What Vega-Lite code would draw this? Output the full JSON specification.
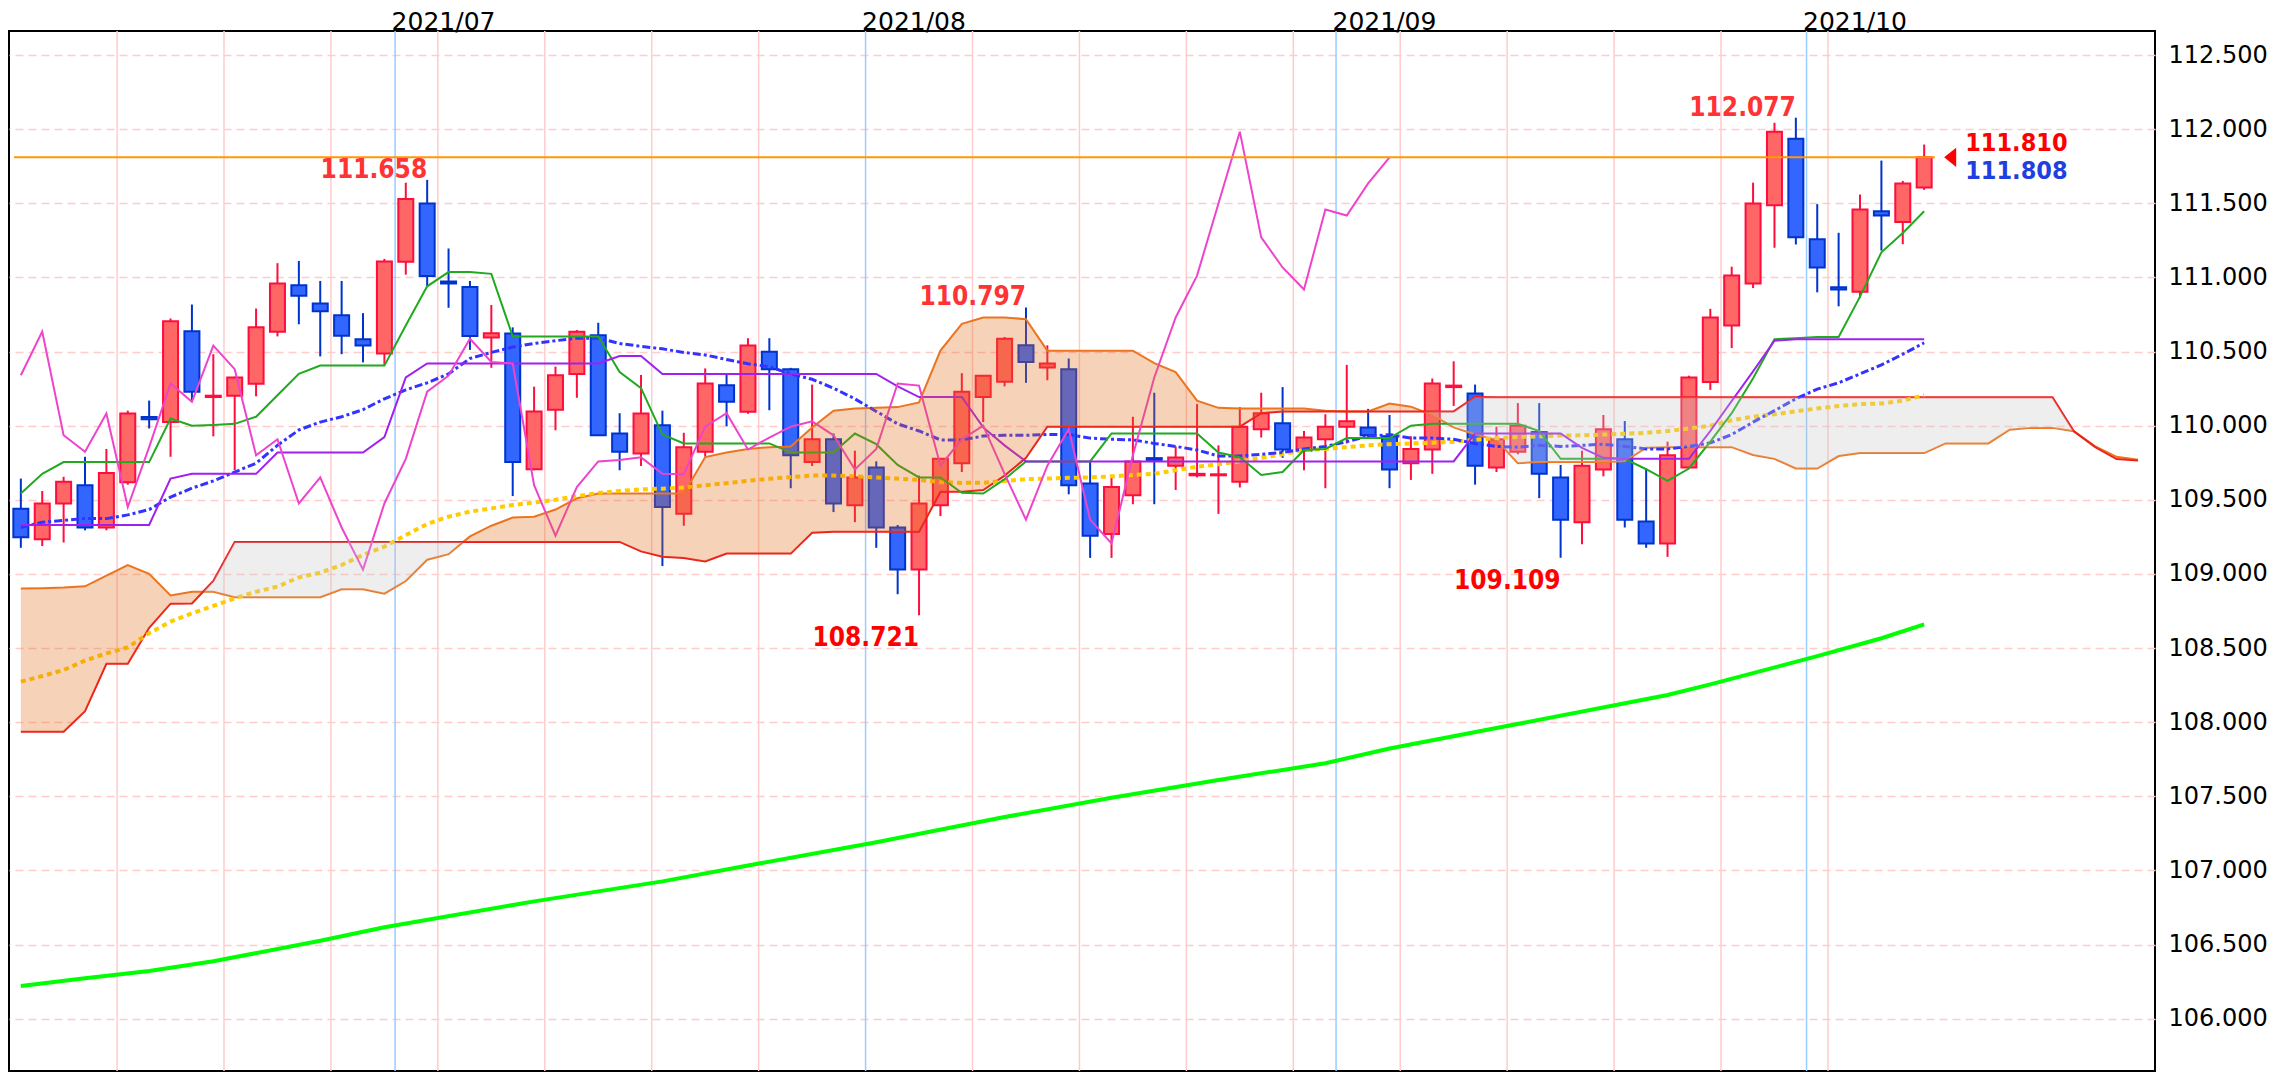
{
"$schema":"https://vega.github.io/schema/vega-lite/v6.json",
"width":2146,"height":1040,
"autosize":{"type":"none"},
"padding":{"left":9,"top":31,"right":133,"bottom":9},
"background":"white",
"config":{"view":{"stroke":"#000","strokeWidth":2},"axis":{"labelFont":"DejaVu Sans","labelColor":"#000","title":null}},
"datasets":{
"weeks":[{"b":4.5},{"b":9.5},{"b":14.5},{"b":19.5},{"b":24.5},{"b":29.5},{"b":34.5},{"b":44.5},{"b":49.5},{"b":54.5},{"b":59.5},{"b":64.5},{"b":69.5},{"b":74.5},{"b":79.5},{"b":84.5}],
"months":[{"b":17.5,"m":"2021/07"},{"b":39.5,"m":"2021/08"},{"b":61.5,"m":"2021/09"},{"b":83.5,"m":"2021/10"}],
"candles":[
{"i":0,"o":109.439,"h":109.643,"l":109.176,"c":109.248,"tk":109.542,"kj":109.330,"m1":109.313,"m2":108.273},
{"i":1,"o":109.234,"h":109.559,"l":109.188,"c":109.475,"tk":109.675,"kj":109.330,"m1":109.349,"m2":108.311},
{"i":2,"o":109.475,"h":109.655,"l":109.212,"c":109.622,"tk":109.754,"kj":109.330,"m1":109.361,"m2":108.352},
{"i":3,"o":109.598,"h":109.790,"l":109.294,"c":109.313,"tk":109.754,"kj":109.330,"m1":109.373,"m2":108.415},
{"i":4,"o":109.313,"h":109.843,"l":109.294,"c":109.680,"tk":109.754,"kj":109.330,"m1":109.373,"m2":108.464},
{"i":5,"o":109.619,"h":110.101,"l":109.602,"c":110.082,"tk":109.754,"kj":109.330,"m1":109.398,"m2":108.505},
{"i":6,"o":110.058,"h":110.169,"l":109.981,"c":110.043,"tk":109.754,"kj":109.330,"m1":109.434,"m2":108.600},
{"i":7,"o":110.024,"h":110.723,"l":109.790,"c":110.704,"tk":110.048,"kj":109.643,"m1":109.518,"m2":108.678},
{"i":8,"o":110.636,"h":110.817,"l":110.173,"c":110.229,"tk":110.000,"kj":109.675,"m1":109.578,"m2":108.734},
{"i":9,"o":110.193,"h":110.482,"l":109.928,"c":110.202,"tk":110.005,"kj":109.675,"m1":109.627,"m2":108.784},
{"i":10,"o":110.202,"h":110.330,"l":109.699,"c":110.325,"tk":110.012,"kj":109.675,"m1":109.687,"m2":108.835},
{"i":11,"o":110.282,"h":110.790,"l":110.198,"c":110.663,"tk":110.060,"kj":109.675,"m1":109.747,"m2":108.880},
{"i":12,"o":110.634,"h":111.096,"l":110.602,"c":110.959,"tk":110.205,"kj":109.819,"m1":109.867,"m2":108.914},
{"i":13,"o":110.947,"h":111.111,"l":110.684,"c":110.877,"tk":110.349,"kj":109.819,"m1":109.971,"m2":108.977},
{"i":14,"o":110.824,"h":110.976,"l":110.467,"c":110.771,"tk":110.405,"kj":109.819,"m1":110.024,"m2":109.008},
{"i":15,"o":110.745,"h":110.976,"l":110.482,"c":110.607,"tk":110.405,"kj":109.819,"m1":110.060,"m2":109.060},
{"i":16,"o":110.583,"h":110.759,"l":110.427,"c":110.540,"tk":110.405,"kj":109.819,"m1":110.108,"m2":109.128},
{"i":17,"o":110.487,"h":111.125,"l":110.410,"c":111.108,"tk":110.405,"kj":109.923,"m1":110.181,"m2":109.184},
{"i":18,"o":111.106,"h":111.639,"l":111.019,"c":111.528,"tk":110.675,"kj":110.325,"m1":110.241,"m2":109.262},
{"i":19,"o":111.499,"h":111.658,"l":110.935,"c":111.010,"tk":110.940,"kj":110.420,"m1":110.289,"m2":109.337},
{"i":20,"o":110.973,"h":111.195,"l":110.795,"c":110.959,"tk":111.036,"kj":110.420,"m1":110.349,"m2":109.386},
{"i":21,"o":110.935,"h":110.976,"l":110.511,"c":110.605,"tk":111.036,"kj":110.420,"m1":110.453,"m2":109.420},
{"i":22,"o":110.595,"h":110.814,"l":110.390,"c":110.624,"tk":111.024,"kj":110.420,"m1":110.494,"m2":109.442},
{"i":23,"o":110.622,"h":110.663,"l":109.525,"c":109.754,"tk":110.602,"kj":110.420,"m1":110.530,"m2":109.465},
{"i":24,"o":109.706,"h":110.263,"l":109.699,"c":110.096,"tk":110.602,"kj":110.420,"m1":110.554,"m2":109.481},
{"i":25,"o":110.108,"h":110.398,"l":109.969,"c":110.340,"tk":110.602,"kj":110.420,"m1":110.573,"m2":109.500},
{"i":26,"o":110.349,"h":110.645,"l":110.188,"c":110.634,"tk":110.602,"kj":110.420,"m1":110.590,"m2":109.525},
{"i":27,"o":110.610,"h":110.694,"l":109.930,"c":109.935,"tk":110.602,"kj":110.420,"m1":110.590,"m2":109.545},
{"i":28,"o":109.947,"h":110.084,"l":109.699,"c":109.824,"tk":110.361,"kj":110.470,"m1":110.554,"m2":109.560},
{"i":29,"o":109.812,"h":110.342,"l":109.728,"c":110.082,"tk":110.253,"kj":110.470,"m1":110.535,"m2":109.570},
{"i":30,"o":110.002,"h":110.101,"l":109.053,"c":109.451,"tk":109.940,"kj":110.349,"m1":110.518,"m2":109.575},
{"i":31,"o":109.405,"h":109.952,"l":109.325,"c":109.855,"tk":109.880,"kj":110.349,"m1":110.494,"m2":109.582},
{"i":32,"o":109.824,"h":110.386,"l":109.790,"c":110.284,"tk":109.880,"kj":110.349,"m1":110.477,"m2":109.598},
{"i":33,"o":110.272,"h":110.342,"l":109.995,"c":110.161,"tk":109.880,"kj":110.349,"m1":110.446,"m2":109.612},
{"i":34,"o":110.094,"h":110.590,"l":110.080,"c":110.540,"tk":109.880,"kj":110.349,"m1":110.417,"m2":109.628},
{"i":35,"o":110.499,"h":110.590,"l":110.104,"c":110.381,"tk":109.880,"kj":110.349,"m1":110.398,"m2":109.642},
{"i":36,"o":110.381,"h":110.390,"l":109.578,"c":109.800,"tk":109.819,"kj":110.349,"m1":110.349,"m2":109.653},
{"i":37,"o":109.754,"h":110.277,"l":109.728,"c":109.908,"tk":109.819,"kj":110.349,"m1":110.313,"m2":109.663},
{"i":38,"o":109.908,"h":109.947,"l":109.417,"c":109.475,"tk":109.819,"kj":110.349,"m1":110.253,"m2":109.663},
{"i":39,"o":109.463,"h":109.831,"l":109.349,"c":109.651,"tk":109.947,"kj":110.349,"m1":110.181,"m2":109.658},
{"i":40,"o":109.718,"h":109.759,"l":109.176,"c":109.313,"tk":109.875,"kj":110.349,"m1":110.096,"m2":109.651},
{"i":41,"o":109.313,"h":109.330,"l":108.863,"c":109.029,"tk":109.735,"kj":110.265,"m1":110.012,"m2":109.643},
{"i":42,"o":109.029,"h":109.663,"l":108.721,"c":109.475,"tk":109.651,"kj":110.193,"m1":109.964,"m2":109.634},
{"i":43,"o":109.463,"h":109.780,"l":109.390,"c":109.776,"tk":109.651,"kj":110.193,"m1":109.904,"m2":109.619},
{"i":44,"o":109.747,"h":110.354,"l":109.687,"c":110.229,"tk":109.547,"kj":110.193,"m1":109.904,"m2":109.614},
{"i":45,"o":110.193,"h":110.340,"l":110.024,"c":110.337,"tk":109.542,"kj":109.988,"m1":109.930,"m2":109.615},
{"i":46,"o":110.296,"h":110.598,"l":110.265,"c":110.586,"tk":109.639,"kj":109.867,"m1":109.935,"m2":109.627},
{"i":47,"o":110.542,"h":110.797,"l":110.289,"c":110.429,"tk":109.759,"kj":109.759,"m1":109.935,"m2":109.639},
{"i":48,"o":110.393,"h":110.542,"l":110.306,"c":110.419,"tk":109.759,"kj":109.759,"m1":109.940,"m2":109.643},
{"i":49,"o":110.381,"h":110.453,"l":109.537,"c":109.598,"tk":109.759,"kj":109.759,"m1":109.940,"m2":109.648},
{"i":50,"o":109.610,"h":109.759,"l":109.108,"c":109.258,"tk":109.759,"kj":109.759,"m1":109.916,"m2":109.651},
{"i":51,"o":109.270,"h":109.663,"l":109.108,"c":109.586,"tk":109.947,"kj":109.759,"m1":109.908,"m2":109.658},
{"i":52,"o":109.530,"h":110.060,"l":109.470,"c":109.759,"tk":109.947,"kj":109.759,"m1":109.904,"m2":109.667},
{"i":53,"o":109.781,"h":110.222,"l":109.470,"c":109.769,"tk":109.947,"kj":109.759,"m1":109.880,"m2":109.675},
{"i":54,"o":109.730,"h":109.860,"l":109.566,"c":109.786,"tk":109.947,"kj":109.759,"m1":109.860,"m2":109.699},
{"i":55,"o":109.665,"h":110.145,"l":109.651,"c":109.675,"tk":109.947,"kj":109.759,"m1":109.836,"m2":109.723},
{"i":56,"o":109.665,"h":109.867,"l":109.405,"c":109.672,"tk":109.819,"kj":109.759,"m1":109.795,"m2":109.740},
{"i":57,"o":109.622,"h":110.125,"l":109.583,"c":109.993,"tk":109.788,"kj":109.759,"m1":109.795,"m2":109.759},
{"i":58,"o":109.976,"h":110.222,"l":109.920,"c":110.084,"tk":109.667,"kj":109.759,"m1":109.807,"m2":109.783},
{"i":59,"o":110.017,"h":110.260,"l":109.783,"c":109.839,"tk":109.687,"kj":109.759,"m1":109.819,"m2":109.807},
{"i":60,"o":109.831,"h":109.964,"l":109.699,"c":109.920,"tk":109.836,"kj":109.759,"m1":109.843,"m2":109.836},
{"i":61,"o":109.908,"h":110.077,"l":109.578,"c":109.993,"tk":109.843,"kj":109.759,"m1":109.860,"m2":109.843},
{"i":62,"o":109.993,"h":110.410,"l":109.880,"c":110.029,"tk":109.916,"kj":109.759,"m1":109.892,"m2":109.855},
{"i":63,"o":109.988,"h":110.113,"l":109.916,"c":109.935,"tk":109.916,"kj":109.759,"m1":109.928,"m2":109.867},
{"i":64,"o":109.928,"h":110.072,"l":109.578,"c":109.704,"tk":109.916,"kj":109.759,"m1":109.940,"m2":109.875},
{"i":65,"o":109.747,"h":109.928,"l":109.634,"c":109.843,"tk":110.000,"kj":109.759,"m1":109.916,"m2":109.880},
{"i":66,"o":109.839,"h":110.318,"l":109.675,"c":110.284,"tk":110.012,"kj":109.759,"m1":109.916,"m2":109.884},
{"i":67,"o":110.260,"h":110.434,"l":110.133,"c":110.270,"tk":110.012,"kj":109.759,"m1":109.908,"m2":109.892},
{"i":68,"o":110.217,"h":110.277,"l":109.602,"c":109.730,"tk":110.012,"kj":109.947,"m1":109.880,"m2":109.904},
{"i":69,"o":109.718,"h":109.993,"l":109.687,"c":109.908,"tk":110.012,"kj":109.947,"m1":109.860,"m2":109.916},
{"i":70,"o":109.824,"h":110.152,"l":109.807,"c":110.000,"tk":110.012,"kj":109.947,"m1":109.855,"m2":109.923},
{"i":71,"o":109.957,"h":110.152,"l":109.511,"c":109.675,"tk":109.964,"kj":109.947,"m1":109.867,"m2":109.928},
{"i":72,"o":109.651,"h":109.735,"l":109.109,"c":109.366,"tk":109.776,"kj":109.947,"m1":109.860,"m2":109.933},
{"i":73,"o":109.349,"h":109.831,"l":109.200,"c":109.730,"tk":109.776,"kj":109.850,"m1":109.867,"m2":109.935},
{"i":74,"o":109.704,"h":110.072,"l":109.658,"c":109.976,"tk":109.776,"kj":109.783,"m1":109.875,"m2":109.940},
{"i":75,"o":109.908,"h":110.031,"l":109.313,"c":109.366,"tk":109.776,"kj":109.776,"m1":109.860,"m2":109.945},
{"i":76,"o":109.354,"h":109.711,"l":109.176,"c":109.205,"tk":109.706,"kj":109.776,"m1":109.843,"m2":109.952},
{"i":77,"o":109.205,"h":109.892,"l":109.115,"c":109.800,"tk":109.627,"kj":109.776,"m1":109.843,"m2":109.964},
{"i":78,"o":109.718,"h":110.337,"l":109.710,"c":110.325,"tk":109.711,"kj":109.776,"m1":109.860,"m2":109.981},
{"i":79,"o":110.294,"h":110.788,"l":110.241,"c":110.730,"tk":109.892,"kj":109.964,"m1":109.884,"m2":110.000},
{"i":80,"o":110.675,"h":111.072,"l":110.523,"c":111.012,"tk":110.084,"kj":110.166,"m1":109.940,"m2":110.036},
{"i":81,"o":110.959,"h":111.639,"l":110.928,"c":111.499,"tk":110.320,"kj":110.366,"m1":110.024,"m2":110.060},
{"i":82,"o":111.487,"h":112.043,"l":111.200,"c":111.983,"tk":110.583,"kj":110.573,"m1":110.101,"m2":110.077},
{"i":83,"o":111.935,"h":112.077,"l":111.222,"c":111.270,"tk":110.590,"kj":110.583,"m1":110.181,"m2":110.096},
{"i":84,"o":111.258,"h":111.494,"l":110.899,"c":111.067,"tk":110.598,"kj":110.583,"m1":110.246,"m2":110.116},
{"i":85,"o":110.933,"h":111.301,"l":110.805,"c":110.918,"tk":110.598,"kj":110.583,"m1":110.289,"m2":110.133},
{"i":86,"o":110.904,"h":111.559,"l":110.863,"c":111.458,"tk":110.870,"kj":110.583,"m1":110.349,"m2":110.145},
{"i":87,"o":111.446,"h":111.788,"l":111.181,"c":111.417,"tk":111.169,"kj":110.583,"m1":110.410,"m2":110.149},
{"i":88,"o":111.373,"h":111.651,"l":111.224,"c":111.634,"tk":111.299,"kj":110.583,"m1":110.482,"m2":110.169},
{"i":89,"o":111.607,"h":111.896,"l":111.590,"c":111.810,"tk":111.446,"kj":110.583,"m1":110.559,"m2":110.205}
],
"chikou":[
{"i":0,"v":110.340},{"i":1,"v":110.634},{"i":2,"v":109.935},{"i":3,"v":109.824},{"i":4,"v":110.082},{"i":5,"v":109.451},{"i":6,"v":109.855},{"i":7,"v":110.284},{"i":8,"v":110.161},{"i":9,"v":110.540},{"i":10,"v":110.381},{"i":11,"v":109.800},{"i":12,"v":109.908},{"i":13,"v":109.475},{"i":14,"v":109.651},{"i":15,"v":109.313},{"i":16,"v":109.029},{"i":17,"v":109.475},{"i":18,"v":109.776},{"i":19,"v":110.229},{"i":20,"v":110.337},{"i":21,"v":110.586},{"i":22,"v":110.429},{"i":23,"v":110.419},{"i":24,"v":109.598},{"i":25,"v":109.258},{"i":26,"v":109.586},{"i":27,"v":109.759},{"i":28,"v":109.769},{"i":29,"v":109.786},{"i":30,"v":109.675},{"i":31,"v":109.672},{"i":32,"v":109.993},{"i":33,"v":110.084},{"i":34,"v":109.839},{"i":35,"v":109.920},{"i":36,"v":109.993},{"i":37,"v":110.029},{"i":38,"v":109.935},{"i":39,"v":109.704},{"i":40,"v":109.843},{"i":41,"v":110.284},{"i":42,"v":110.270},{"i":43,"v":109.730},{"i":44,"v":109.908},{"i":45,"v":110.000},{"i":46,"v":109.675},{"i":47,"v":109.366},{"i":48,"v":109.730},{"i":49,"v":109.976},{"i":50,"v":109.366},{"i":51,"v":109.205},{"i":52,"v":109.800},{"i":53,"v":110.325},{"i":54,"v":110.730},{"i":55,"v":111.012},{"i":56,"v":111.499},{"i":57,"v":111.983},{"i":58,"v":111.270},{"i":59,"v":111.067},{"i":60,"v":110.918},{"i":61,"v":111.458},{"i":62,"v":111.417},{"i":63,"v":111.634},{"i":64,"v":111.810}
],
"ma200":[
{"i":0,"v":106.221},{"i":3,"v":106.273},{"i":6,"v":106.322},{"i":9,"v":106.387},{"i":14,"v":106.525},{"i":17,"v":106.617},{"i":24,"v":106.791},{"i":30,"v":106.926},{"i":34,"v":107.033},{"i":40,"v":107.19},{"i":46,"v":107.36},{"i":51,"v":107.49},{"i":56,"v":107.610},{"i":61,"v":107.723},{"i":64,"v":107.822},{"i":69,"v":107.960},{"i":77,"v":108.183},{"i":79,"v":108.255},{"i":84,"v":108.445},{"i":87,"v":108.566},{"i":89,"v":108.660}
],
"cloud":[
{"i":0,"a":108.901,"b":107.935,"k":"up"},{"i":1,"a":108.904,"b":107.935,"k":"up"},{"i":2,"a":108.908,"b":107.935,"k":"up"},{"i":3,"a":108.916,"b":108.074,"k":"up"},{"i":4,"a":108.988,"b":108.394,"k":"up"},{"i":5,"a":109.060,"b":108.394,"k":"up"},{"i":6,"a":109.000,"b":108.637,"k":"up"},{"i":7,"a":108.855,"b":108.799,"k":"up"},{"i":8,"a":108.880,"b":108.800,"k":"up"},
{"i":8.52,"a":108.880,"b":108.880,"k":"up"},{"i":8.52,"a":108.880,"b":108.880,"k":"dn"},
{"i":9,"a":108.880,"b":108.953,"k":"dn"},{"i":10,"a":108.843,"b":109.216,"k":"dn"},{"i":11,"a":108.843,"b":109.216,"k":"dn"},{"i":12,"a":108.843,"b":109.216,"k":"dn"},{"i":13,"a":108.843,"b":109.216,"k":"dn"},{"i":14,"a":108.843,"b":109.216,"k":"dn"},{"i":15,"a":108.896,"b":109.216,"k":"dn"},{"i":16,"a":108.896,"b":109.216,"k":"dn"},{"i":17,"a":108.867,"b":109.216,"k":"dn"},{"i":18,"a":108.952,"b":109.216,"k":"dn"},{"i":19,"a":109.096,"b":109.216,"k":"dn"},{"i":20,"a":109.133,"b":109.216,"k":"dn"},
{"i":20.69,"a":109.216,"b":109.216,"k":"dn"},{"i":20.69,"a":109.216,"b":109.216,"k":"up"},
{"i":21,"a":109.253,"b":109.216,"k":"up"},{"i":22,"a":109.325,"b":109.216,"k":"up"},{"i":23,"a":109.380,"b":109.216,"k":"up"},{"i":24,"a":109.386,"b":109.216,"k":"up"},{"i":25,"a":109.434,"b":109.216,"k":"up"},{"i":26,"a":109.510,"b":109.216,"k":"up"},{"i":27,"a":109.542,"b":109.216,"k":"up"},{"i":28,"a":109.542,"b":109.216,"k":"up"},{"i":29,"a":109.542,"b":109.152,"k":"up"},{"i":30,"a":109.542,"b":109.116,"k":"up"},{"i":31,"a":109.542,"b":109.108,"k":"up"},{"i":32,"a":109.788,"b":109.084,"k":"up"},{"i":33,"a":109.819,"b":109.137,"k":"up"},{"i":34,"a":109.843,"b":109.137,"k":"up"},{"i":35,"a":109.855,"b":109.137,"k":"up"},{"i":36,"a":109.860,"b":109.137,"k":"up"},{"i":37,"a":109.988,"b":109.277,"k":"up"},{"i":38,"a":110.101,"b":109.284,"k":"up"},{"i":39,"a":110.116,"b":109.284,"k":"up"},{"i":40,"a":110.120,"b":109.284,"k":"up"},{"i":41,"a":110.125,"b":109.284,"k":"up"},{"i":42,"a":110.157,"b":109.284,"k":"up"},{"i":43,"a":110.506,"b":109.554,"k":"up"},{"i":44,"a":110.687,"b":109.554,"k":"up"},{"i":45,"a":110.730,"b":109.566,"k":"up"},{"i":46,"a":110.730,"b":109.663,"k":"up"},{"i":47,"a":110.718,"b":109.783,"k":"up"},{"i":48,"a":110.506,"b":109.993,"k":"up"},{"i":49,"a":110.506,"b":109.993,"k":"up"},{"i":50,"a":110.506,"b":109.993,"k":"up"},{"i":51,"a":110.506,"b":109.993,"k":"up"},{"i":52,"a":110.506,"b":109.993,"k":"up"},{"i":53,"a":110.422,"b":109.993,"k":"up"},{"i":54,"a":110.361,"b":109.993,"k":"up"},{"i":55,"a":110.169,"b":109.993,"k":"up"},{"i":56,"a":110.120,"b":109.993,"k":"up"},{"i":57,"a":110.116,"b":109.993,"k":"up"},{"i":58,"a":110.116,"b":110.084,"k":"up"},{"i":59,"a":110.116,"b":110.096,"k":"up"},{"i":60,"a":110.116,"b":110.096,"k":"up"},{"i":61,"a":110.101,"b":110.096,"k":"up"},{"i":62,"a":110.096,"b":110.096,"k":"up"},{"i":63,"a":110.096,"b":110.096,"k":"up"},{"i":64,"a":110.149,"b":110.096,"k":"up"},{"i":65,"a":110.128,"b":110.096,"k":"up"},
{"i":65.57,"a":110.096,"b":110.096,"k":"up"},{"i":65.57,"a":110.096,"b":110.096,"k":"dn"},
{"i":66,"a":110.072,"b":110.096,"k":"dn"},{"i":67,"a":109.988,"b":110.096,"k":"dn"},{"i":68,"a":109.940,"b":110.193,"k":"dn"},{"i":69,"a":109.904,"b":110.191,"k":"dn"},{"i":70,"a":109.747,"b":110.191,"k":"dn"},{"i":71,"a":109.754,"b":110.191,"k":"dn"},{"i":72,"a":109.754,"b":110.191,"k":"dn"},{"i":73,"a":109.754,"b":110.191,"k":"dn"},{"i":74,"a":109.754,"b":110.191,"k":"dn"},{"i":75,"a":109.759,"b":110.191,"k":"dn"},{"i":76,"a":109.851,"b":110.191,"k":"dn"},{"i":77,"a":109.855,"b":110.191,"k":"dn"},{"i":78,"a":109.855,"b":110.191,"k":"dn"},{"i":79,"a":109.855,"b":110.191,"k":"dn"},{"i":80,"a":109.855,"b":110.191,"k":"dn"},{"i":81,"a":109.802,"b":110.191,"k":"dn"},{"i":82,"a":109.776,"b":110.191,"k":"dn"},{"i":83,"a":109.711,"b":110.191,"k":"dn"},{"i":84,"a":109.711,"b":110.191,"k":"dn"},{"i":85,"a":109.795,"b":110.191,"k":"dn"},{"i":86,"a":109.815,"b":110.191,"k":"dn"},{"i":87,"a":109.815,"b":110.191,"k":"dn"},{"i":88,"a":109.815,"b":110.191,"k":"dn"},{"i":89,"a":109.815,"b":110.191,"k":"dn"},{"i":90,"a":109.880,"b":110.191,"k":"dn"},{"i":91,"a":109.880,"b":110.191,"k":"dn"},{"i":92,"a":109.880,"b":110.191,"k":"dn"},{"i":93,"a":109.973,"b":110.191,"k":"dn"},{"i":94,"a":109.985,"b":110.191,"k":"dn"},{"i":95,"a":109.985,"b":110.191,"k":"dn"},
{"i":96,"a":109.962,"b":109.962,"k":"dn"},{"i":96,"a":109.962,"b":109.962,"k":"up"},
{"i":97,"a":109.860,"b":109.855,"k":"up"},{"i":98,"a":109.790,"b":109.775,"k":"up"},{"i":99,"a":109.770,"b":109.765,"k":"up"}
],
"extremes":[
{"i":19,"p":111.658,"t":"111.658","k":"hi"},{"i":47,"p":110.797,"t":"110.797","k":"hi"},{"i":83,"p":112.077,"t":"112.077","k":"hi"},{"i":42,"p":108.721,"t":"108.721","k":"lo"},{"i":72,"p":109.109,"t":"109.109","k":"lo"}
],
"last":[{"i":89,"p":111.81,"bid":"111.810","ask":"111.808"}]
},
"layer":[
{"data":{"name":"weeks"},"mark":{"type":"rule","color":"#ffcccc","strokeWidth":1.5},
 "encoding":{"x":{"field":"b","type":"quantitative","scale":{"domain":[-0.32,99.56],"nice":false,"zero":false},
   "axis":{"orient":"top","values":[17.5,39.5,61.5,83.5],"labelExpr":"datum.value < 20 ? '2021/07' : datum.value < 50 ? '2021/08' : datum.value < 70 ? '2021/09' : '2021/10'","grid":false,"ticks":false,"domain":false,"labelFontSize":25,"labelAlign":"left","labelBaseline":"alphabetic","labelPadding":2,"labelOffset":-4,"labelFlush":false,"labelOverlap":false,"labelColor":"#000","title":null}}}},
{"data":{"name":"months"},"mark":{"type":"rule","color":"#99ccff","strokeWidth":1.5},
 "encoding":{"x":{"field":"b","type":"quantitative","scale":{"domain":[-0.32,99.56],"nice":false,"zero":false}}}},
{"data":{"name":"candles"},"mark":{"type":"rule","strokeWidth":2},
 "encoding":{"x":{"field":"i","type":"quantitative","scale":{"domain":[-0.32,99.56],"nice":false,"zero":false}},
  "y":{"field":"l","type":"quantitative","scale":{"domain":[105.647,112.662],"nice":false,"zero":false},
   "axis":{"orient":"right","values":[106,106.5,107,107.5,108,108.5,109,109.5,110,110.5,111,111.5,112,112.5],"format":".3f","grid":true,"gridColor":"#ffcccc","gridDash":[8,5],"gridWidth":1.5,"ticks":false,"domain":false,"labelFontSize":24,"labelPadding":13,"labelColor":"#000","title":null}},
  "y2":{"field":"h"},
  "color":{"condition":{"test":"datum.c >= datum.o","value":"#ff0d3d"},"value":"#0033cc"}}},
{"data":{"name":"candles"},"mark":{"type":"bar","size":15,"strokeWidth":2},
 "encoding":{"x":{"field":"i","type":"quantitative","scale":{"domain":[-0.32,99.56],"nice":false,"zero":false}},
  "y":{"field":"o","type":"quantitative","scale":{"domain":[105.647,112.662],"nice":false,"zero":false}},
  "y2":{"field":"c"},
  "fill":{"condition":{"test":"datum.c >= datum.o","value":"#ff6666"},"value":"#3366ff"},
  "stroke":{"condition":{"test":"datum.c >= datum.o","value":"#ff0d3d"},"value":"#0033cc"}}},
{"data":{"name":"cloud"},"mark":{"type":"line","color":"#ee7722","strokeWidth":2},
 "encoding":{"x":{"field":"i","type":"quantitative","scale":{"domain":[-0.32,99.56],"nice":false,"zero":false}},
  "y":{"field":"a","type":"quantitative","scale":{"domain":[105.647,112.662],"nice":false,"zero":false}}}},
{"data":{"name":"cloud"},"mark":{"type":"line","color":"#ee1c1c","strokeWidth":2},
 "encoding":{"x":{"field":"i","type":"quantitative","scale":{"domain":[-0.32,99.56],"nice":false,"zero":false}},
  "y":{"field":"b","type":"quantitative","scale":{"domain":[105.647,112.662],"nice":false,"zero":false}}}},
{"data":{"name":"ma200"},"mark":{"type":"line","color":"#00ff00","strokeWidth":4},
 "encoding":{"x":{"field":"i","type":"quantitative","scale":{"domain":[-0.32,99.56],"nice":false,"zero":false}},
  "y":{"field":"v","type":"quantitative","scale":{"domain":[105.647,112.662],"nice":false,"zero":false}}}},
{"data":{"name":"candles"},"mark":{"type":"line","color":"#ffcc00","strokeWidth":4,"strokeDash":[5,4]},
 "encoding":{"x":{"field":"i","type":"quantitative","scale":{"domain":[-0.32,99.56],"nice":false,"zero":false}},
  "y":{"field":"m2","type":"quantitative","scale":{"domain":[105.647,112.662],"nice":false,"zero":false}}}},
{"data":{"name":"candles"},"mark":{"type":"line","color":"#3333ff","strokeWidth":3,"strokeDash":[8,3,3,3]},
 "encoding":{"x":{"field":"i","type":"quantitative","scale":{"domain":[-0.32,99.56],"nice":false,"zero":false}},
  "y":{"field":"m1","type":"quantitative","scale":{"domain":[105.647,112.662],"nice":false,"zero":false}}}},
{"data":{"name":"candles"},"mark":{"type":"line","color":"#1faa1f","strokeWidth":2},
 "encoding":{"x":{"field":"i","type":"quantitative","scale":{"domain":[-0.32,99.56],"nice":false,"zero":false}},
  "y":{"field":"tk","type":"quantitative","scale":{"domain":[105.647,112.662],"nice":false,"zero":false}}}},
{"data":{"name":"candles"},"mark":{"type":"line","color":"#a020f0","strokeWidth":2},
 "encoding":{"x":{"field":"i","type":"quantitative","scale":{"domain":[-0.32,99.56],"nice":false,"zero":false}},
  "y":{"field":"kj","type":"quantitative","scale":{"domain":[105.647,112.662],"nice":false,"zero":false}}}},
{"data":{"name":"chikou"},"mark":{"type":"line","color":"#ee44cc","strokeWidth":2},
 "encoding":{"x":{"field":"i","type":"quantitative","scale":{"domain":[-0.32,99.56],"nice":false,"zero":false}},
  "y":{"field":"v","type":"quantitative","scale":{"domain":[105.647,112.662],"nice":false,"zero":false}}}},
{"data":{"name":"cloud"},"mark":{"type":"area","interpolate":"linear"},
 "encoding":{"x":{"field":"i","type":"quantitative","scale":{"domain":[-0.32,99.56],"nice":false,"zero":false}},
  "y":{"field":"a","type":"quantitative","scale":{"domain":[105.647,112.662],"nice":false,"zero":false}},
  "y2":{"field":"b"},
  "color":{"field":"k","type":"nominal","scale":{"domain":["up","dn"],"range":["rgba(224,106,24,0.3)","rgba(198,198,198,0.3)"]},"legend":null}}},
{"data":{"name":"last"},"mark":{"type":"rule","color":"#ff9900","strokeWidth":2},
 "encoding":{"x":{"datum":-0.32,"type":"quantitative","scale":{"domain":[-0.32,99.56],"nice":false,"zero":false}},
  "x2":{"datum":89.5},
  "y":{"field":"p","type":"quantitative","scale":{"domain":[105.647,112.662],"nice":false,"zero":false}}}},
{"data":{"name":"last"},"mark":{"type":"point","shape":"M1,-1.6L-1,0L1,1.6Z","size":144,"filled":true,"color":"#ff0000","opacity":1,"xOffset":26},
 "encoding":{"x":{"field":"i","type":"quantitative","scale":{"domain":[-0.32,99.56],"nice":false,"zero":false}},
  "y":{"field":"p","type":"quantitative","scale":{"domain":[105.647,112.662],"nice":false,"zero":false}}}},
{"data":{"name":"last"},"mark":{"type":"text","align":"left","baseline":"alphabetic","dx":41,"dy":-6,"font":"DejaVu Sans Condensed","fontWeight":"bold","fontSize":25,"color":"#ff0000"},
 "encoding":{"x":{"field":"i","type":"quantitative","scale":{"domain":[-0.32,99.56],"nice":false,"zero":false}},
  "y":{"field":"p","type":"quantitative","scale":{"domain":[105.647,112.662],"nice":false,"zero":false}},
  "text":{"field":"bid"}}},
{"data":{"name":"last"},"mark":{"type":"text","align":"left","baseline":"alphabetic","dx":41,"dy":22,"font":"DejaVu Sans Condensed","fontWeight":"bold","fontSize":25,"color":"#1f3fe0"},
 "encoding":{"x":{"field":"i","type":"quantitative","scale":{"domain":[-0.32,99.56],"nice":false,"zero":false}},
  "y":{"field":"p","type":"quantitative","scale":{"domain":[105.647,112.662],"nice":false,"zero":false}},
  "text":{"field":"ask"}}},
{"data":{"name":"extremes"},"transform":[{"filter":"datum.k == 'hi'"}],
 "mark":{"type":"text","align":"right","baseline":"alphabetic","dy":-2,"font":"DejaVu Sans Condensed","fontWeight":"bold","fontSize":26,"color":"#ff3333"},
 "encoding":{"x":{"field":"i","type":"quantitative","scale":{"domain":[-0.32,99.56],"nice":false,"zero":false}},
  "y":{"field":"p","type":"quantitative","scale":{"domain":[105.647,112.662],"nice":false,"zero":false}},
  "text":{"field":"t"}}},
{"data":{"name":"extremes"},"transform":[{"filter":"datum.k == 'lo'"}],
 "mark":{"type":"text","align":"right","baseline":"alphabetic","dy":31,"font":"DejaVu Sans Condensed","fontWeight":"bold","fontSize":26,"color":"#ff0000"},
 "encoding":{"x":{"field":"i","type":"quantitative","scale":{"domain":[-0.32,99.56],"nice":false,"zero":false}},
  "y":{"field":"p","type":"quantitative","scale":{"domain":[105.647,112.662],"nice":false,"zero":false}},
  "text":{"field":"t"}}}
]
}
